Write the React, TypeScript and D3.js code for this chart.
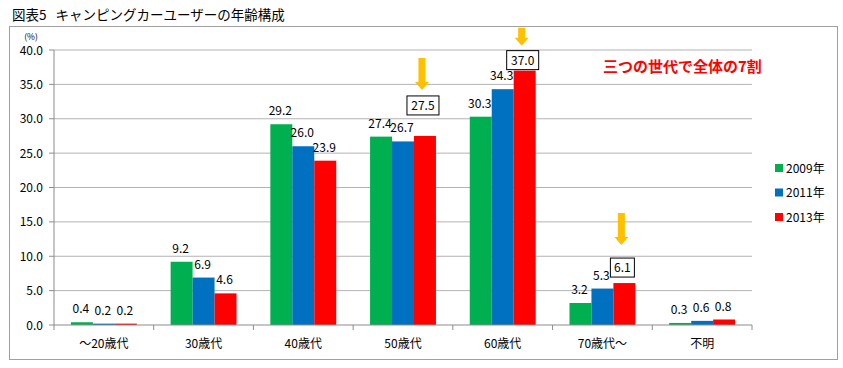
import * as d3 from "d3";

const width = 843;
const height = 368;

const categories = ["～20歳代", "30歳代", "40歳代", "50歳代", "60歳代", "70歳代～", "不明"];
const seriesNames = ["2009年", "2011年", "2013年"];
const v2009 = [0.4, 9.2, 29.2, 27.4, 30.3, 3.2, 0.3];
const v2011 = [0.2, 6.9, 26.0, 26.7, 34.3, 5.3, 0.6];
const v2013 = [0.2, 4.6, 23.9, 27.5, 37.0, 6.1, 0.8];
const yTicks = [0, 5, 10, 15, 20, 25, 30, 35, 40];

// 2013 values that get a box and an arrow (placement tweaks per call-out)
const highlighted = [
  { cat: "50歳代", lift: 21, gap: 6, arrowLen: 32 },
  { cat: "60歳代", lift: 1, gap: 5, arrowLen: 18 },
  { cat: "70歳代～", lift: 6, gap: 13, arrowLen: 32 },
];

const colors = ["#00B050", "#0070C0", "#FF0000"];
const font = "'Noto Sans CJK JP', 'Noto Sans', sans-serif";

const marginLeft = 54;
const plotRight = 752;
const plotTop = 50;
const plotBottom = 325;

const App = () => {
  const series = [v2009, v2011, v2013];

  const x = d3
    .scaleBand<string>()
    .domain(categories)
    .range([marginLeft, plotRight])
    .paddingInner(0)
    .paddingOuter(0);

  const xs = d3
    .scaleBand<string>()
    .domain(seriesNames)
    .range([0, x.bandwidth()])
    .paddingOuter(0.77)
    .paddingInner(0);

  const y = d3.scaleLinear().domain([0, 40]).range([plotBottom, plotTop]);

  const boundaries = d3.range(categories.length + 1).map((i) => marginLeft + i * x.bandwidth());

  return (
    <svg
      width={width}
      height={height}
      viewBox={`0 0 ${width} ${height}`}
      style={{ position: "absolute", left: 0, top: 0, fontFamily: font }}
    >
      <rect width={width} height={height} fill="#fff" />
      <text x={12} y={20} fontSize={13.5} fill="#000">
        図表5
        <tspan dx={9}>キャンピングカーユーザーの年齢構成</tspan>
      </text>
      <rect x={9.5} y={26.5} width={828} height={333} fill="none" stroke="#a0a0a0" />

      {/* grid */}
      {yTicks.map((t) => (
        <g key={t}>
          {t > 0 && (
            <line x1={marginLeft} x2={plotRight} y1={y(t)} y2={y(t)} stroke="#b3b3b3" />
          )}
          <line x1={marginLeft - 5} x2={marginLeft} y1={y(t)} y2={y(t)} stroke="#8c8c8c" />
          <text x={43} y={y(t) + 4.5} fontSize={12} textAnchor="end" fill="#000">
            {t.toFixed(1)}
          </text>
        </g>
      ))}
      <text x={31} y={40} fontSize={8.5} textAnchor="middle" fill="#000">
        (%)
      </text>
      <line x1={marginLeft} x2={marginLeft} y1={plotTop} y2={plotBottom} stroke="#8c8c8c" />

      {/* bars */}
      {categories.map((c, ci) => (
        <g key={c}>
          {series.map((s, si) => {
            const bx = (x(c) as number) + (xs(seriesNames[si]) as number);
            const top = y(s[ci]);
            return (
              <rect
                key={si}
                x={bx}
                y={top}
                width={xs.bandwidth()}
                height={plotBottom - top}
                fill={colors[si]}
              />
            );
          })}
        </g>
      ))}

      {/* x axis */}
      <line x1={marginLeft} x2={plotRight} y1={plotBottom} y2={plotBottom} stroke="#8c8c8c" />
      {boundaries.map((bx, i) => (
        <line key={i} x1={bx} x2={bx} y1={plotBottom} y2={plotBottom + 5} stroke="#8c8c8c" />
      ))}
      {categories.map((c) => (
        <text
          key={c}
          x={(x(c) as number) + x.bandwidth() / 2}
          y={348}
          fontSize={12}
          textAnchor="middle"
          fill="#000"
        >
          {c}
        </text>
      ))}

      {/* value labels */}
      {categories.map((c, ci) =>
        series.map((s, si) => {
          const cx = (x(c) as number) + (xs(seriesNames[si]) as number) + xs.bandwidth() / 2;
          const top = y(s[ci]);
          const hl = si === 2 ? highlighted.find((h) => h.cat === c) : undefined;
          if (hl) {
            const bw = s[ci] >= 10 ? 32 : 24;
            const bh = 19;
            const bottom = top - hl.lift;
            const bcx = cx - 2;
            const tip = bottom - bh - hl.gap;
            const ay0 = tip - hl.arrowLen;
            const headH = 8;
            const sw = 3.5;
            const hw = 7;
            const ax = bcx - 1;
            const arrow = d3.path();
            arrow.moveTo(ax - sw, ay0);
            arrow.lineTo(ax + sw, ay0);
            arrow.lineTo(ax + sw, tip - headH);
            arrow.lineTo(ax + hw, tip - headH);
            arrow.lineTo(ax, tip);
            arrow.lineTo(ax - hw, tip - headH);
            arrow.lineTo(ax - sw, tip - headH);
            arrow.closePath();
            return (
              <g key={`${ci}-${si}`}>
                <rect
                  x={bcx - bw / 2}
                  y={bottom - bh}
                  width={bw}
                  height={bh}
                  fill="#fff"
                  stroke="#000"
                />
                <text x={bcx} y={bottom - 5} fontSize={12} textAnchor="middle" fill="#000">
                  {s[ci].toFixed(1)}
                </text>
                <path d={arrow.toString()} fill="#FFC000" />
              </g>
            );
          }
          return (
            <text
              key={`${ci}-${si}`}
              x={cx - 1}
              y={top - 9}
              fontSize={12}
              textAnchor="middle"
              fill="#000"
            >
              {s[ci].toFixed(1)}
            </text>
          );
        })
      )}

      <text x={603} y={72} fontSize={15} fontWeight="bold" fill="#FF0000">
        三つの世代で全体の7割
      </text>

      {/* legend */}
      {seriesNames.map((n, i) => (
        <g key={n} transform={`translate(775, ${168 + i * 24.5})`}>
          <rect x={0} y={-4} width={8} height={8} fill={colors[i]} />
          <text x={11} y={4.5} fontSize={12} fill="#000">
            {n}
          </text>
        </g>
      ))}
    </svg>
  );
};

export default App;
